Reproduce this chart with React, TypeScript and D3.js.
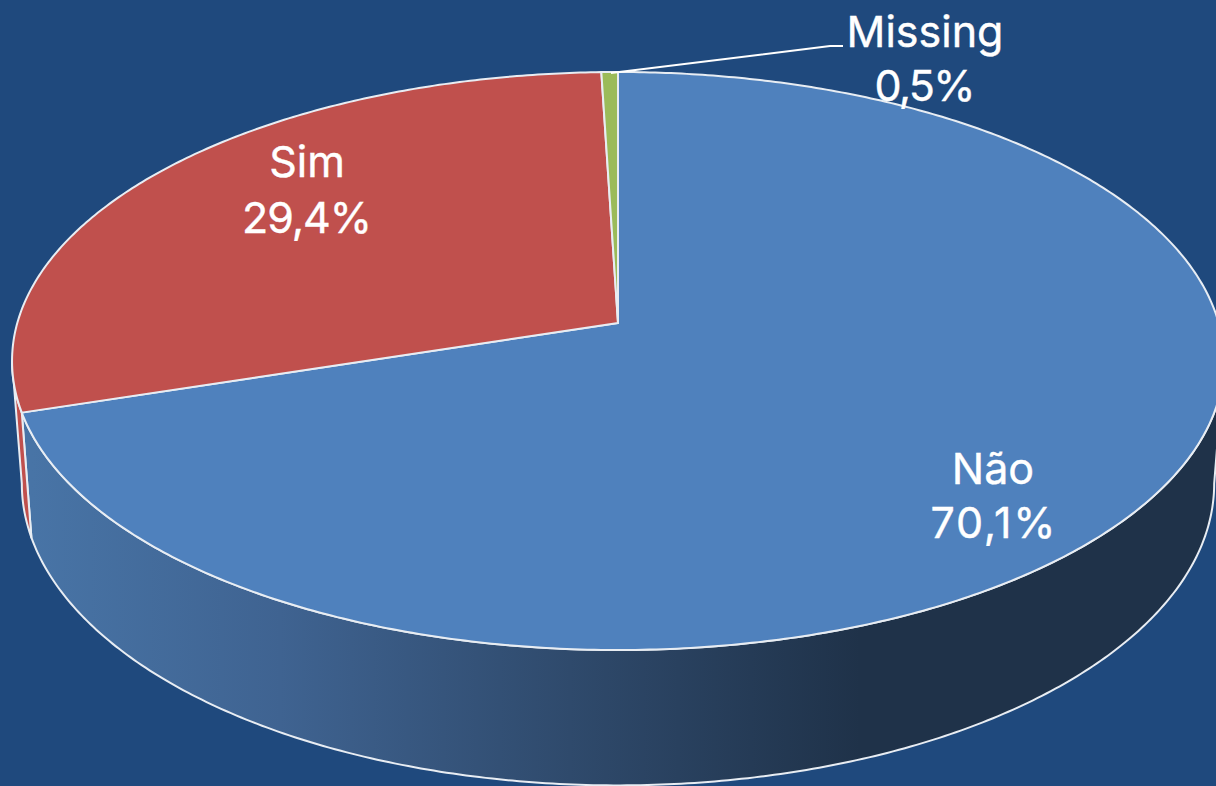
import React from "react";
import * as d3 from "d3";

const categories = ["Não", "Sim", "Missing"];
const values = [70.1, 29.4, 0.5];
const valueLabels = ["70,1%", "29,4%", "0,5%"];
const sliceColors = ["#4f81bd", "#c0504d", "#9bbb59"];
const wallColors = ["url(#wall)", "#c0504d", "#9bbb59"];

const W = 1216, H = 786;
const FONT = "Inter, 'Noto Sans', sans-serif";

// perspective rims of the tilted pie
type Rim = { x0: number; y0: number; a: number; b: number; k: number };
const topRim: Rim = { x0: 618, y0: 323, a: 600.7, b: 284, k: -0.1315 };
const lowRim: Rim = { x0: 618, y0: 444, a: 591, b: 296.5, k: -0.1315 };
const project = (r: Rim, t: number): [number, number] => {
  const X = Math.sin(t), Y = -Math.cos(t), w = 1 + r.k * Y;
  return [r.x0 + (r.a * X) / w, r.y0 + (r.b * Y) / w];
};
const samples = (t0: number, t1: number) => {
  const n = Math.max(2, Math.ceil(Math.abs(t1 - t0) / 0.01));
  return d3.range(n + 1).map((i) => t0 + ((t1 - t0) * i) / n);
};
const line = d3.line();

const arcs = d3.pie<number>().sort(null)(values);
const wallStart = (97.56 * Math.PI) / 180;
const wallEnd = (262.44 * Math.PI) / 180;

const sliceD = (a: d3.PieArcDatum<number>) =>
  line([[topRim.x0, topRim.y0], ...samples(a.startAngle, a.endAngle).map((t) => project(topRim, t))])! + "Z";

const wallD = (a: d3.PieArcDatum<number>) => {
  const t0 = Math.max(a.startAngle, wallStart), t1 = Math.min(a.endAngle, wallEnd);
  if (t1 <= t0) return null;
  return (
    line([
      ...samples(t0, t1).map((t) => project(topRim, t)),
      ...samples(t1, t0).map((t) => project(lowRim, t)),
    ])! + "Z"
  );
};

const labelLayout = [
  { x: 993, y1: 484, y2: 538, w: 125 },
  { x: 307, y1: 177, y2: 233, w: 130 },
  { x: 925, y1: 47, y2: 101, w: 101 },
];
const leader: [number, number][] = [[611, 73], [830, 46], [843, 46]];

export default function App() {
  return (
    <svg
      width={W}
      height={H}
      viewBox={`0 0 ${W} ${H}`}
      style={{ position: "absolute", left: 0, top: 0, display: "block", background: "#1f497d" }}
    >
      <defs>
        <linearGradient id="wall" gradientUnits="userSpaceOnUse" x1={32} x2={860} y1={0} y2={0}>
          <stop offset="0" stopColor="#4874a6" />
          <stop offset="0.3" stopColor="#3f6391" />
          <stop offset="0.65" stopColor="#2f4a6c" />
          <stop offset="1" stopColor="#1f3249" />
        </linearGradient>
      </defs>
      {arcs.map((a, i) => {
        const d = wallD(a);
        return d ? <path key={i} d={d} fill={wallColors[i]} stroke="#e8edf3" strokeWidth={2} strokeLinejoin="round" /> : null;
      })}
      {arcs.map((a, i) => (
        <path key={i} d={sliceD(a)} fill={sliceColors[i]} stroke="#e8edf3" strokeWidth={2} strokeLinejoin="round" />
      ))}
      <path d={line(leader)!} fill="none" stroke="#ffffff" strokeWidth={2} />
      {categories.map((c, i) => (
        <g key={c} fill="#ffffff" stroke="#ffffff" strokeWidth={0.4} fontFamily={FONT} fontSize={43} textAnchor="middle">
          <text x={labelLayout[i].x} y={labelLayout[i].y1}>{c}</text>
          <text x={labelLayout[i].x} y={labelLayout[i].y2} textLength={labelLayout[i].w} lengthAdjust="spacing">
            {valueLabels[i]}
          </text>
        </g>
      ))}
    </svg>
  );
}
